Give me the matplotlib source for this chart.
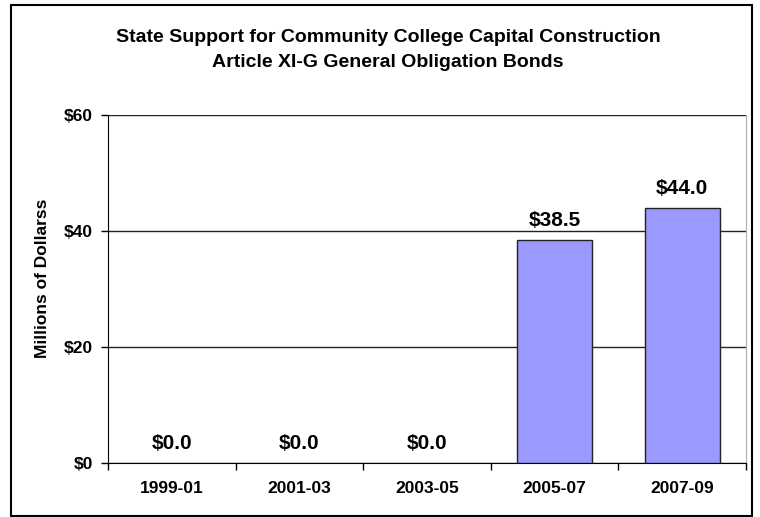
import matplotlib
matplotlib.use("Agg")
import matplotlib.pyplot as plt
from matplotlib.patches import Rectangle
import numpy as np

periods = ["1999-01", "2001-03", "2003-05", "2005-07", "2007-09"]
bonds = [0.0, 0.0, 0.0, 38.5, 44.0]
y_ticks = [0, 20, 40, 60]
y_tick_labels = ["$0", "$20", "$40", "$60"]

plt.rcParams['font.family'] = ['Liberation Sans', 'DejaVu Sans']
plt.rcParams['font.weight'] = 'bold'

fig = plt.figure(figsize=(7.6, 5.17), dpi=100)
ax = fig.add_axes([108 / 760, 1 - 463 / 517, 638 / 760, 348 / 517])

x = np.arange(len(periods))
# empty periods get no outline so nothing sits on the baseline
edges = ["#222222" if v > 0 else "none" for v in bonds]
ax.bar(x, bonds, width=0.59, color="#9999FF", edgecolor=edges,
       linewidth=1.0, zorder=3)

for xi, v in zip(x, bonds):
    ax.annotate(f"${v:.1f}", (xi, v), xytext=(0, 7), textcoords="offset points",
                ha="center", va="bottom", fontsize=15, fontweight="bold")

ax.set_xlim(-0.5, len(periods) - 0.5)
ax.set_ylim(0, 60)
ax.set_yticks(y_ticks)
ax.set_yticklabels(y_tick_labels, fontsize=12.5, fontweight="bold")
ax.set_xticks(x)
ax.set_xticklabels(periods, fontsize=12.5, fontweight="bold")
ax.set_xticks(np.arange(-0.5, len(periods)), minor=True)
ax.tick_params(axis="x", which="major", length=0, pad=13)
ax.tick_params(axis="x", which="minor", length=5, width=1, direction="out")
ax.tick_params(axis="y", length=5, width=1, direction="out", pad=6)

ax.yaxis.grid(True, color="#222222", linewidth=1.0, zorder=0)
ax.set_axisbelow(True)
ax.spines["left"].set_color("black")
ax.spines["bottom"].set_color("black")
ax.spines["top"].set_visible(False)
ax.spines["right"].set_color("#b0b0b0")

ax.set_ylabel("Millions of Dollarss", fontsize=12.5, fontweight="bold", va="center")
ax.yaxis.set_label_coords(-0.103, 0.53)

fig.text(388 / 760, 1 - 38 / 517, "State Support for Community College Capital Construction",
         ha="center", va="center", fontsize=14, fontweight="bold")
fig.text(388 / 760, 1 - 63 / 517, "Article XI-G General Obligation Bonds",
         ha="center", va="center", fontsize=14, fontweight="bold")

# outer chart frame
fig.patches.append(Rectangle((11 / 760, 0.002), 741 / 760, 1 - 5 / 517 - 0.002,
                             transform=fig.transFigure, fill=False,
                             edgecolor="black", linewidth=1.5))

fig.savefig("out.png", dpi=100)
